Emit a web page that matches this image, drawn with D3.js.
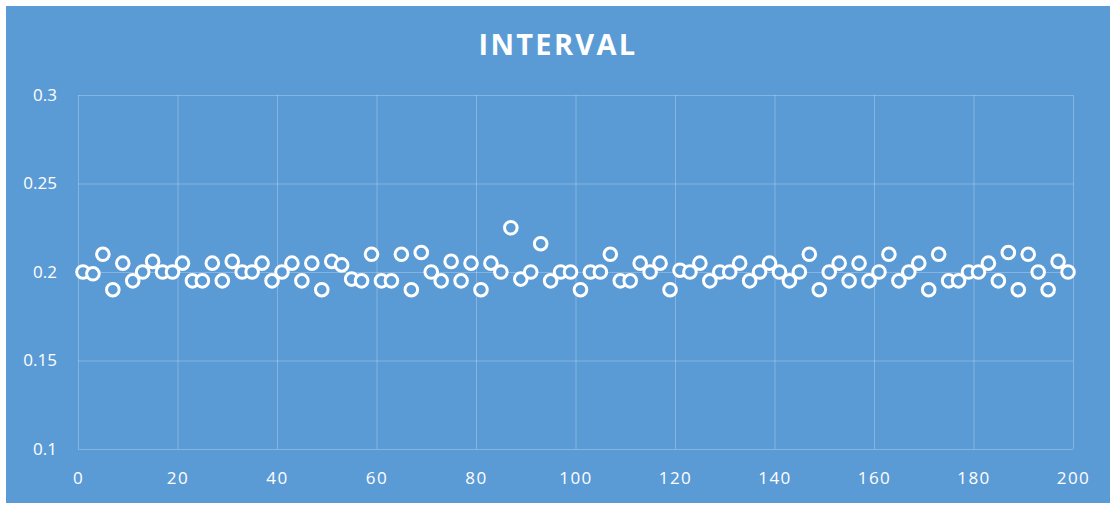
<!DOCTYPE html>
<html>
<head>
<meta charset="utf-8">
<script src="https://cdn.jsdelivr.net/npm/d3@7"></script>
<style>
  html, body { margin: 0; padding: 0; background: #ffffff; }
  svg { display: block; }
</style>
</head>
<body>
<svg id="chart" width="1110" height="505"></svg>
<script>
// Sample index (x) and measured interval (y)
const xValues = d3.range(1, 200, 2);
const intervals = [
  0.200, 0.199, 0.210, 0.190, 0.205, 0.195, 0.200, 0.206, 0.200, 0.200,
  0.205, 0.195, 0.195, 0.205, 0.195, 0.206, 0.200, 0.200, 0.205, 0.195,
  0.200, 0.205, 0.195, 0.205, 0.190, 0.206, 0.204, 0.196, 0.195, 0.210,
  0.195, 0.195, 0.210, 0.190, 0.211, 0.200, 0.195, 0.206, 0.195, 0.205,
  0.190, 0.205, 0.200, 0.225, 0.196, 0.200, 0.216, 0.195, 0.200, 0.200,
  0.190, 0.200, 0.200, 0.210, 0.195, 0.195, 0.205, 0.200, 0.205, 0.190,
  0.201, 0.200, 0.205, 0.195, 0.200, 0.200, 0.205, 0.195, 0.200, 0.205,
  0.200, 0.195, 0.200, 0.210, 0.190, 0.200, 0.205, 0.195, 0.205, 0.195,
  0.200, 0.210, 0.195, 0.200, 0.205, 0.190, 0.210, 0.195, 0.195, 0.200,
  0.200, 0.205, 0.195, 0.211, 0.190, 0.210, 0.200, 0.190, 0.206, 0.200
];
const xTicks = [0, 20, 40, 60, 80, 100, 120, 140, 160, 180, 200];
const yTicks = [0.1, 0.15, 0.2, 0.25, 0.3];
const chartTitle = "INTERVAL";

const svg = d3.select("#chart");
const bg = "#5b9bd5";
const plot = { left: 78, right: 1073, top: 95, bottom: 449 };

// Chart area background (thin white margin on the top and left)
svg.append("rect")
  .attr("x", 6).attr("y", 6)
  .attr("width", 1104).attr("height", 497)
  .attr("fill", bg);

const x = d3.scaleLinear().domain([0, 200]).range([plot.left, plot.right]);
const y = d3.scaleLinear().domain([0.1, 0.3]).range([plot.bottom, plot.top]);

const gridColor = "rgba(255,255,255,0.25)";

// Vertical gridlines
svg.append("g")
  .attr("transform", `translate(0,${plot.bottom})`)
  .call(d3.axisBottom(x).tickValues(xTicks).tickSize(-(plot.bottom - plot.top)).tickFormat(""))
  .call(g => g.select(".domain").remove())
  .call(g => g.selectAll("line").attr("stroke", gridColor).attr("stroke-width", 1));

// Horizontal gridlines
svg.append("g")
  .attr("transform", `translate(${plot.left},0)`)
  .call(d3.axisLeft(y).tickValues(yTicks).tickSize(-(plot.right - plot.left)).tickFormat(""))
  .call(g => g.select(".domain").remove())
  .call(g => g.selectAll("line").attr("stroke", gridColor).attr("stroke-width", 1));

const labelFont = "'Open Sans', 'Liberation Sans', sans-serif";

// X tick labels
svg.append("g")
  .attr("transform", `translate(0,${plot.bottom})`)
  .call(d3.axisBottom(x).tickValues(xTicks).tickSize(0).tickPadding(23).tickFormat(d3.format("d")))
  .call(g => g.select(".domain").remove())
  .call(g => g.selectAll("text")
    .attr("fill", "#ffffff")
    .style("font-family", labelFont)
    .style("font-size", "17px")
    .style("letter-spacing", "1.5px"));

// Y tick labels
svg.append("g")
  .attr("transform", `translate(${plot.left},0)`)
  .call(d3.axisLeft(y).tickValues(yTicks).tickSize(0).tickPadding(21).tickFormat(d => String(d)))
  .call(g => g.select(".domain").remove())
  .call(g => g.selectAll("text")
    .attr("fill", "#ffffff")
    .style("font-family", labelFont)
    .style("font-size", "17px"));

// Title
svg.append("text")
  .attr("x", 558).attr("y", 55)
  .attr("text-anchor", "middle")
  .attr("fill", "#ffffff")
  .style("font-family", labelFont)
  .style("font-weight", "700")
  .style("font-size", "29px")
  .style("letter-spacing", "2.3px")
  .text(chartTitle);

// Markers: hollow white circles
svg.append("g")
  .selectAll("circle")
  .data(xValues.map((v, i) => ({ x: v, y: intervals[i] })))
  .join("circle")
  .attr("cx", d => x(d.x))
  .attr("cy", d => y(d.y))
  .attr("r", 6.3)
  .attr("fill", bg)
  .attr("stroke", "#ffffff")
  .attr("stroke-width", 3);
</script>
</body>
</html>
